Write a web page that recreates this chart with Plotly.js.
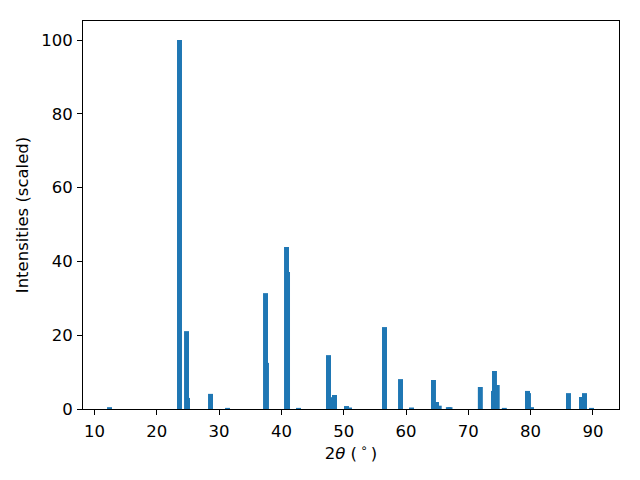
<!DOCTYPE html>
<html>
<head>
<meta charset="utf-8">
<script src="https://cdn.plot.ly/plotly-3.0.1.min.js"></script>
<style>html,body{margin:0;padding:0;background:#fff;}#chart{width:640px;height:480px;}</style>
</head>
<body>
<div id="chart"></div>
<script>
const twoTheta = [12.41, 23.64, 24.77, 24.93, 28.62, 31.35, 37.45, 37.6, 40.82, 40.98, 42.74, 47.56, 48.04, 48.52, 50.45, 50.93, 56.55, 59.12, 60.88, 64.41, 64.9, 65.33, 66.8, 67.06, 71.93, 74.04, 74.2, 74.64, 75.78, 79.5, 79.66, 80.14, 86.08, 88.17, 88.65, 89.78];
const intensities = [0.5, 100, 21.1, 3.0, 4.1, 0.3, 31.4, 12.5, 43.9, 37.1, 0.3, 14.6, 3.2, 3.8, 0.8, 0.4, 22.2, 8.1, 0.4, 7.86, 1.9, 0.9, 0.5, 0.5, 5.96, 4.9, 10.3, 6.5, 0.3, 4.9, 4.3, 0.5, 4.3, 3.25, 4.3, 0.3];
const xTicks = [10, 20, 30, 40, 50, 60, 70, 80, 90];
const yTicks = [0, 20, 40, 60, 80, 100];

const font = {family: 'DejaVu Sans', size: 16.5, color: '#000'};
const trace = {
  type: 'bar',
  x: twoTheta,
  y: intensities,
  width: 0.8,
  marker: {color: '#1f77b4', line: {width: 0}},
  hoverinfo: 'x+y'
};
const layout = {
  width: 640, height: 480,
  margin: {l: 83, r: 21, t: 21, b: 71, pad: 0},
  paper_bgcolor: '#fff', plot_bgcolor: '#fff',
  font: font,
  showlegend: false,
  barmode: 'overlay',
  xaxis: {
    range: [8.15, 94.19],
    tickvals: xTicks,
    ticktext: xTicks.map(String),
    ticks: 'outside', ticklen: 5, tickwidth: 1, tickcolor: '#000',
    ticklabelstandoff: 2,
    showline: true, linecolor: '#000', linewidth: 1, mirror: true,
    showgrid: false, zeroline: false,
    tickfont: font,
    title: {text: '2<i>θ</i> (\u2009<sup>∘</sup>\u2009)', font: font, standoff: 6}
  },
  yaxis: {
    range: [0, 105.15],
    tickvals: yTicks,
    ticktext: yTicks.map(String),
    ticks: 'outside', ticklen: 5, tickwidth: 1, tickcolor: '#000',
    ticklabelstandoff: 1,
    showline: true, linecolor: '#000', linewidth: 1, mirror: true,
    showgrid: false, zeroline: false,
    tickfont: font,
    title: {text: 'Intensities (scaled)', font: font, standoff: 8}
  }
};
Plotly.newPlot('chart', [trace], layout, {staticPlot: true, displayModeBar: false});
</script>
</body>
</html>
